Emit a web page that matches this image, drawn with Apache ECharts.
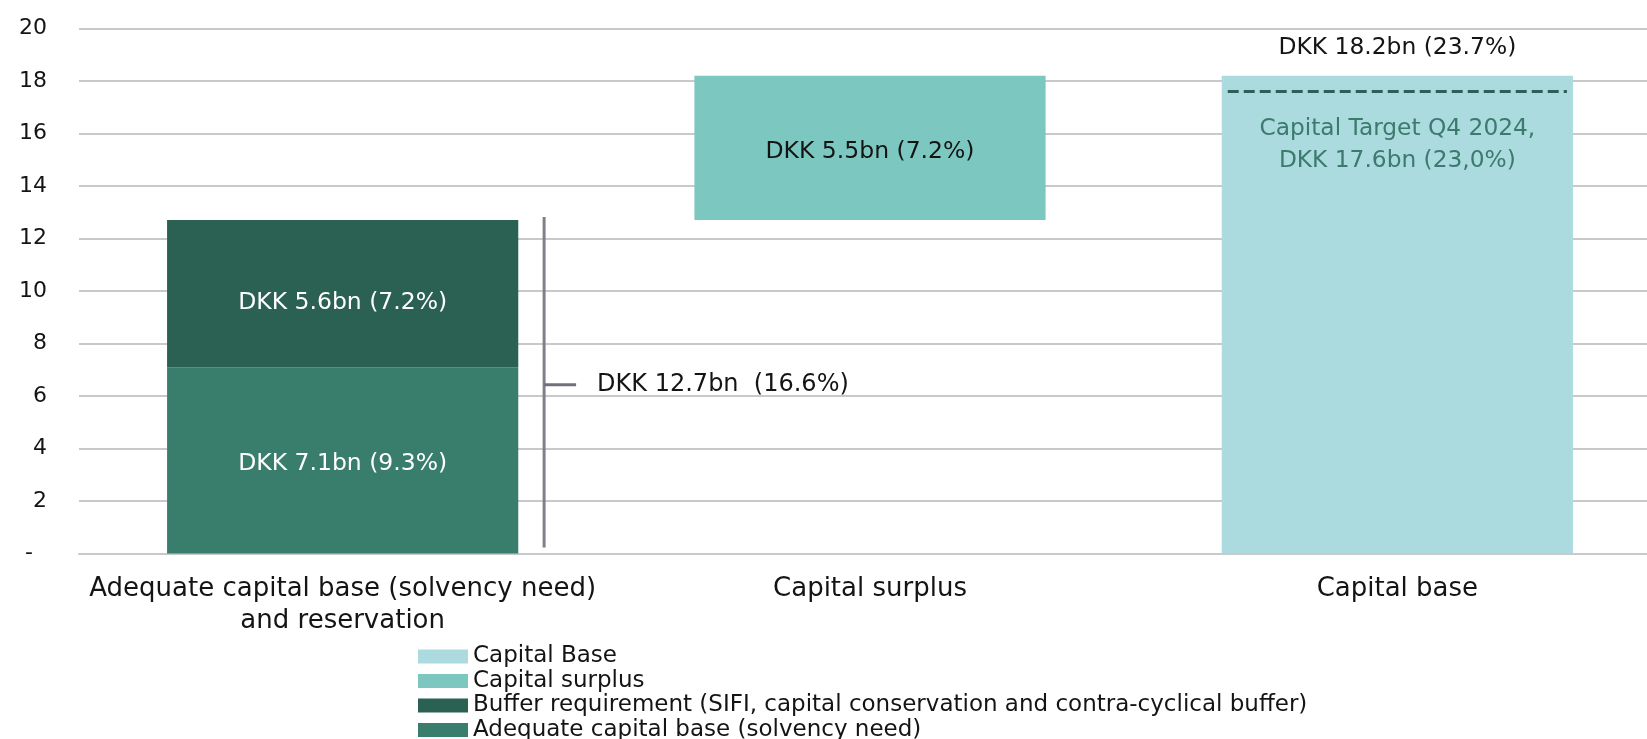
<!DOCTYPE html>
<html>
<head>
<meta charset="utf-8">
<title>Capital base and capital surplus</title>
<script src="https://cdn.jsdelivr.net/npm/echarts@6/dist/echarts.min.js"></script>
<style>
  html, body { margin: 0; padding: 0; background: #ffffff; }
  #chart { width: 1647px; height: 739px; }
</style>
</head>
<body>
<div id="chart"></div>
<script>
// Categories on the x axis
const categories = [
  'Adequate capital base (solvency need)\nand reservation',
  'Capital surplus',
  'Capital base'
];

// Series values, DKK bn ('-' = no bar in that column)
const solvencyNeed   = [7.1, '-', '-'];
const bufferReq      = [5.6, '-', '-'];
const surplusOffset  = ['-', 12.7, '-'];   // invisible base lifting the surplus bar
const capitalSurplus = ['-', 5.5, '-'];
const capitalBase    = ['-', '-', 18.2];

// Value labels shown on the bars
const solvencyLabels = ['DKK 7.1bn (9.3%)', '', ''];
const bufferLabels   = ['DKK 5.6bn (7.2%)', '', ''];
const surplusLabels  = ['', 'DKK 5.5bn (7.2%)', ''];
const baseLabels     = ['', '', 'DKK 18.2bn (23.7%)'];

// Bracket spanning the required capital, and the capital target line
const bracketTotal = 12.7;
const bracketLabel = 'DKK 12.7bn  (16.6%)';
const capitalTarget = 17.6;
const targetLabel = 'Capital Target Q4 2024,\nDKK 17.6bn (23,0%)';

// Y axis ticks
const yMin = 0, yMax = 20, yStep = 2;

const names = {
  base: 'Capital Base',
  surplus: 'Capital surplus',
  buffer: 'Buffer requirement (SIFI, capital conservation and contra-cyclical buffer)',
  solvency: 'Adequate capital base (solvency need)'
};

const colors = {
  base: '#abdbdf',
  surplus: '#7cc8c1',
  buffer: '#2b6152',
  solvency: '#397e6c',
  bracket: '#80808a',
  target: '#2d6155',
  targetText: '#3b7a6c',
  grid: '#c8c8cd',
  text: '#141414'
};

const FONT = '"DejaVu Sans", sans-serif';

function barLabel(labels, color, size, dy) {
  return {
    show: true,
    position: 'inside',
    offset: [0, dy],
    color: color,
    fontFamily: FONT,
    fontSize: size,
    formatter: p => labels[p.dataIndex]
  };
}

const chart = echarts.init(document.getElementById('chart'), null, { renderer: 'canvas' });

chart.setOption({
  animation: false,
  backgroundColor: '#ffffff',
  textStyle: { fontFamily: FONT },
  // plot area runs slightly past the right edge of the canvas
  grid: { left: 79, width: 1582, top: 28.4, bottom: 185.4, containLabel: false, outerBoundsMode: 'none' },
  legend: {
    orient: 'vertical',
    left: 413,
    top: 640,
    height: 140,
    icon: 'rect',
    itemWidth: 50,
    itemHeight: 14,
    itemGap: 1.5,
    textStyle: { fontFamily: FONT, fontSize: 23, color: colors.text, lineHeight: 23 },
    data: [names.base, names.surplus, names.buffer, names.solvency]
  },
  xAxis: {
    type: 'category',
    data: categories,
    axisTick: { show: false },
    axisLine: { show: true, lineStyle: { color: colors.grid, width: 2 } },
    axisLabel: {
      fontFamily: FONT,
      fontSize: 26,
      lineHeight: 32,
      color: colors.text,
      margin: 20,
      interval: 0
    }
  },
  yAxis: {
    type: 'value',
    min: yMin,
    max: yMax,
    interval: yStep,
    axisLine: { show: false },
    axisTick: { show: false },
    splitLine: { lineStyle: { color: colors.grid, width: 2 } },
    axisLabel: {
      fontFamily: FONT,
      fontSize: 22,
      color: colors.text,
      margin: 32,
      formatter: v => (v === 0 ? '-  ' : String(v))
    }
  },
  series: [
    {
      name: names.solvency,
      type: 'bar',
      stack: 'capital',
      barWidth: '66.6%',
      itemStyle: { color: colors.solvency },
      label: barLabel(solvencyLabels, '#ffffff', 23.5, 4),
      data: solvencyNeed
    },
    {
      name: names.buffer,
      type: 'bar',
      stack: 'capital',
      barWidth: '66.6%',
      itemStyle: { color: colors.buffer },
      label: barLabel(bufferLabels, '#ffffff', 23.5, 9),
      data: bufferReq
    },
    {
      name: 'offset',
      type: 'bar',
      stack: 'capital',
      barWidth: '66.6%',
      itemStyle: { color: 'rgba(0,0,0,0)' },
      emphasis: { disabled: true },
      silent: true,
      data: surplusOffset
    },
    {
      name: names.surplus,
      type: 'bar',
      stack: 'capital',
      barWidth: '66.6%',
      itemStyle: { color: colors.surplus },
      label: barLabel(surplusLabels, colors.text, 23.5, 4),
      data: capitalSurplus
    },
    {
      name: names.base,
      type: 'bar',
      stack: 'capital',
      barWidth: '66.6%',
      itemStyle: { color: colors.base },
      label: {
        show: true,
        position: 'top',
        distance: 16,
        color: colors.text,
        fontFamily: FONT,
        fontSize: 23.4,
        formatter: p => baseLabels[p.dataIndex]
      },
      data: capitalBase
    },
    {
      // Bracket to the right of the first column with its total
      name: 'bracket',
      type: 'custom',
      silent: true,
      z: 5,
      data: [[0, bracketTotal]],
      renderItem: function (params, api) {
        const base = api.coord([api.value(0), 0]);
        const top = api.coord([api.value(0), api.value(1)]);
        const band = api.size([1, 0])[0];
        const x = base[0] + band * 0.382;
        const yTop = top[1] - 3;
        const yBot = base[1] - 6;
        const yMid = (top[1] + base[1]) / 2 - 2;
        return {
          type: 'group',
          children: [
            { type: 'line', shape: { x1: x, y1: yTop, x2: x, y2: yBot },
              style: { stroke: colors.bracket, lineWidth: 3 } },
            { type: 'line', shape: { x1: x, y1: yMid, x2: x + 32, y2: yMid },
              style: { stroke: '#70707a', lineWidth: 3 } },
            { type: 'text', x: x + 53, y: yMid,
              style: { text: bracketLabel, fill: colors.text, font: '24px ' + FONT,
                       textAlign: 'left', textVerticalAlign: 'middle' } }
          ]
        };
      }
    },
    {
      // Dashed capital target across the capital base column
      name: 'target',
      type: 'custom',
      silent: true,
      z: 5,
      data: [[2, capitalTarget]],
      renderItem: function (params, api) {
        const p = api.coord([api.value(0), api.value(1)]);
        const half = api.size([1, 0])[0] * 0.333;
        return {
          type: 'group',
          children: [
            { type: 'line', shape: { x1: p[0] - half + 6, y1: p[1], x2: p[0] + half - 6, y2: p[1] },
              style: { stroke: colors.target, lineWidth: 3, lineDash: [11, 5] } },
            { type: 'text', x: p[0], y: p[1] + 22,
              style: { text: targetLabel, fill: colors.targetText, font: '23.3px ' + FONT,
                       lineHeight: 32, textAlign: 'center', textVerticalAlign: 'top' } }
          ]
        };
      }
    }
  ]
});
</script>
</body>
</html>
